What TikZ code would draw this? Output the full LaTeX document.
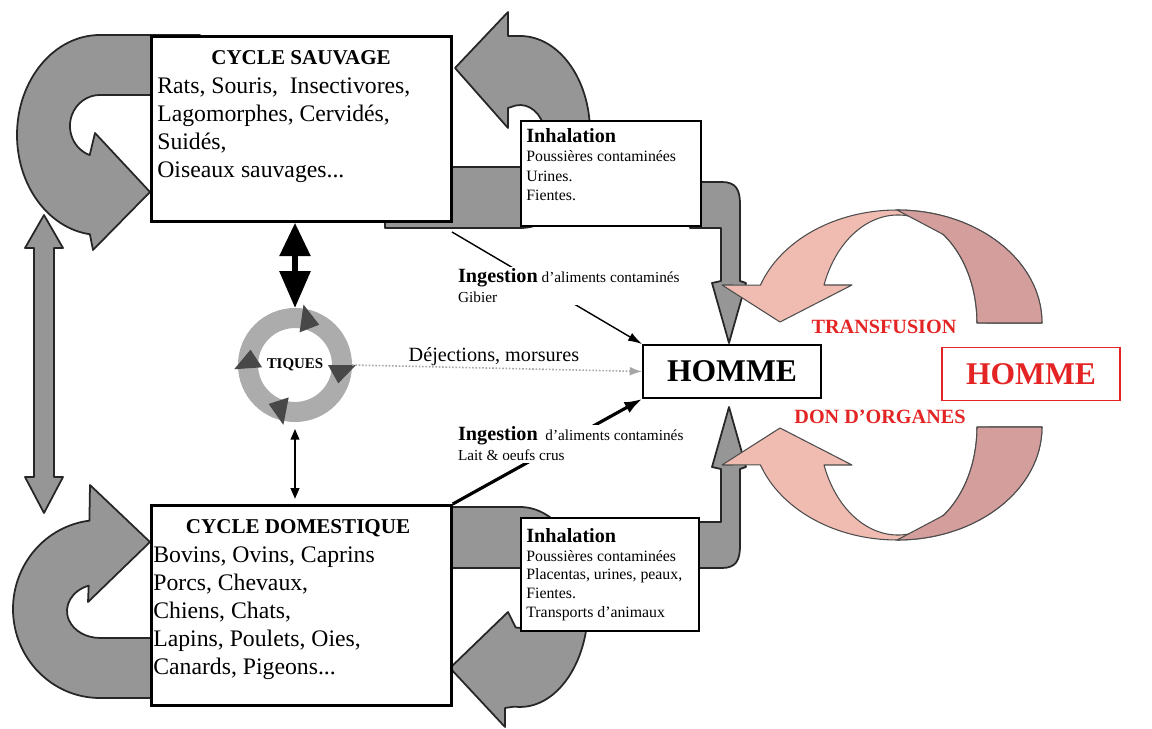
\documentclass[tikz,border=0pt]{standalone}
\usepackage{fontspec}
\setmainfont{Liberation Serif}
\usetikzlibrary{arrows.meta}
\definecolor{arrowgray}{RGB}{150,150,150}
\definecolor{ringgray}{RGB}{172,172,172}
\definecolor{tickdark}{RGB}{72,72,72}
\definecolor{pinklight}{RGB}{240,188,178}
\definecolor{pinkdark}{RGB}{212,158,156}
\definecolor{donred}{RGB}{228,36,36}

\begin{document}
\begin{tikzpicture}[x=0.02cm,y=-0.02cm,>=Latex,
  bigarrow/.style={fill=arrowgray,draw=black!85,line width=1pt,line join=round},
  pinkarrow/.style={draw=black!70,line width=0.6pt,line join=round},
  cyclebox/.style={draw,fill=white,line width=1.6pt,minimum width=6cm,minimum height=3.7cm,anchor=north west,inner sep=0pt},
  inhbox/.style={draw,fill=white,line width=0.9pt,minimum width=3.6cm,anchor=north west,inner sep=0pt},
  hommebox/.style={draw,fill=white,line width=1.1pt,minimum width=3.56cm,minimum height=1.06cm,font=\fontsize{18}{20}\selectfont\bfseries},
  titletext/.style={inner sep=0pt,font=\fontsize{12}{14}\selectfont\bfseries},
  listtext/.style={anchor=north west,align=left,inner sep=0pt,font=\fontsize{13.5}{16}\selectfont},
  smalltext/.style={anchor=north west,align=left,inner sep=0pt,font=\fontsize{9}{11}\selectfont},
  inglabel/.style={anchor=north west,align=left,fill=white,inner sep=1pt,font=\fontsize{8.7}{11.4}\selectfont},
  redlabel/.style={text=donred,font=\fontsize{11.5}{13}\selectfont\bfseries}]
  \useasboundingbox (0,0) rectangle (1152,729);

  % gray cycle arrows
  \filldraw[bigarrow] (200,35) -- (100,35) arc[start angle=-90,end angle=-263,x radius=83,y radius=100]
    -- (93,250) -- (150,192) -- (95,133) -- (89.7,155.1)
    arc[start angle=110,end angle=270,x radius=30,y radius=31] -- (200,95) -- cycle;
  \filldraw[bigarrow] (385,228) -- (520,228) arc[start angle=90,end angle=-90,x radius=70,y radius=96]
    -- (508,36) -- (508,12) -- (455,68) -- (508,128) -- (508,108) -- (515.7,105.5)
    arc[start angle=-100,end angle=90,x radius=25,y radius=31] -- (385,167) -- cycle;
  \filldraw[bigarrow] (200,698) -- (100,698) arc[start angle=90,end angle=263,x radius=87,y radius=89]
    -- (90,485) -- (150,542) -- (88,602) -- (88.7,585.6)
    arc[start angle=250,end angle=90,x radius=33,y radius=27] -- (200,638) -- cycle;
  \filldraw[bigarrow] (440,507) -- (520,507) arc[start angle=-90,end angle=95,x radius=68,y radius=100]
    -- (505,708) -- (505,727) -- (450,668) -- (508,612) -- (515.7,627.5)
    arc[start angle=100,end angle=-90,x radius=25,y radius=30] -- (440,568) -- cycle;
  \filldraw[bigarrow] (44,215) -- (63,248) -- (54,248) -- (54,477) -- (63,477) -- (44,513)
    -- (25,477) -- (34,477) -- (34,248) -- (25,248) -- cycle;
  \filldraw[bigarrow] (690,182) -- (722,182) .. controls (736,182) and (740,190) .. (740,204)
    -- (740,281) -- (746,283) -- (729,343) -- (712,283) -- (721,281) -- (721,228) -- (690,228) -- cycle;
  \filldraw[bigarrow] (690,568) -- (722,568) .. controls (736,568) and (740,560) .. (740,546)
    -- (740,469) -- (746,467) -- (729,407) -- (712,467) -- (721,469) -- (721,522) -- (690,522) -- cycle;

  % boxes
  \node[cyclebox] (sauvage) at (150,35) {};
  \node[cyclebox,minimum height=4cm] (domestique) at (150,504) {};
  \node[titletext] (sauvtitle) at (301,58) {CYCLE SAUVAGE};
  \node[listtext] (sauvlist) at (157,77)
    {Rats, Souris,\ \ Insectivores,\\Lagomorphes, Cervidés,\\Suidés,\\Oiseaux sauvages...};
  \node[titletext] (domtitle) at (298,528) {CYCLE DOMESTIQUE};
  \node[listtext] (domlist) at (153,546)
    {Bovins, Ovins, Caprins\\Porcs, Chevaux,\\Chiens, Chats,\\Lapins, Poulets, Oies,\\Canards, Pigeons...};

  \node[inhbox,minimum height=2.1cm] (inhsauv) at (520,120) {};
  \node[smalltext] (inhsauvtxt) at (526,128)
    {{\fontsize{11.5}{11}\selectfont\bfseries Inhalation}\\Poussières contaminées\\Urines.\\Fientes.};
  \node[inhbox,minimum height=2.26cm,minimum width=3.56cm] (inhdom) at (520,517) {};
  \node[smalltext,font=\fontsize{9}{10.7}\selectfont] (inhdomtxt) at (526,528)
    {{\fontsize{11.5}{10.7}\selectfont\bfseries Inhalation}\\Poussières contaminées\\Placentas, urines, peaux,\\Fientes.\\Transports d’animaux};

  \node[hommebox] (homme) at (732,371.5) {HOMME};
  \node[hommebox,draw=donred,text=donred] (hommedon) at (1031,374) {HOMME};

  % ticks cycle
  \node[circle,draw=ringgray,line width=11.4pt,minimum size=1.88cm,inner sep=0pt,
        font=\fontsize{8.5}{9}\selectfont\bfseries] (tiques) at (295,365) {TIQUES};
  \begin{scope}[shift={(tiques.center)}]
    \foreach \a in {-73,9,110,185}
      \fill[tickdark] ({\a-9}:33) -- ({\a+14}:47) -- ({\a-9}:61) -- cycle;
  \end{scope}

  % routes of contamination
  \coordinate (ingtop) at (452,232);
  \draw[line width=0.8pt,-{Latex[length=8pt,width=5pt]}] (ingtop) -- (homme.north west);
  \draw[line width=1.8pt,-{Latex[length=10pt,width=7pt]}] (domestique.north east) -- (homme.south west);
  \draw[black!35,line width=0.9pt,densely dotted,-{Latex[length=7pt,width=5pt]}] (tiques.east) -- (homme.west);
  \draw[line width=3.5pt,{Triangle[width=17pt,length=19pt]}-{Triangle[width=17pt,length=21pt]}]
    (sauvage.south -| tiques.north) -- (tiques.north);
  \draw[line width=0.7pt,{Triangle[width=5pt,length=6pt]}-{Triangle[width=5pt,length=6pt]},
    shorten <=4pt,shorten >=3pt] (tiques.south) -- (tiques.south |- domestique.north);

  \node[inglabel] (ingsauv) at (456,266.5)
    {{\fontsize{11.5}{11.4}\selectfont\bfseries Ingestion}\ d’aliments contaminés\\Gibier};
  \node[inglabel] (ingdom) at (456,424.5)
    {{\fontsize{11.5}{11.4}\selectfont\bfseries Ingestion}\ \ d’aliments contaminés\\Lait \& oeufs crus};
  \node[font=\fontsize{11.5}{13}\selectfont] (dejlabel) at (494,357) {Déjections, morsures};

  % transfusion / organ donation
  \foreach \f in {1,-1}{
    \begin{scope}[shift={(0,{375-375*\f})},yscale=\f]
      \filldraw[pinkarrow,fill=pinklight] (1042,323) arc[start angle=0,end angle=-160.4,x radius=145,y radius=113]
        -- (722,285) -- (780,322) -- (852,285) -- (824,285)
        arc[start angle=-159.4,end angle=0,x radius=79,y radius=108] -- cycle;
      \filldraw[pinkarrow,fill=pinkdark] (1042,323) arc[start angle=0,end angle=-90,x radius=145,y radius=113]
        -- (943.3,234.5) arc[start angle=-55,end angle=0,x radius=79,y radius=108] -- cycle;
    \end{scope}
  }
  \node[redlabel] (transf) at (884,327) {TRANSFUSION};
  \node[redlabel] (organes) at (880,417) {DON D’ORGANES};
\end{tikzpicture}
\end{document}
